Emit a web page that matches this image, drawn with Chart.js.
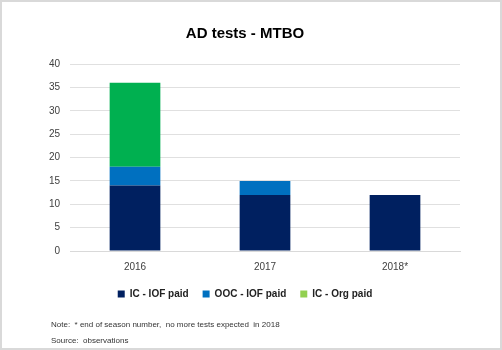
<!DOCTYPE html>
<html>
<head>
<meta charset="utf-8">
<script src="https://cdn.jsdelivr.net/npm/chart.js@4.4.0/dist/chart.umd.min.js"></script>
<style>
  html, body { margin: 0; padding: 0; background: #fff; }
  #wrap {
    position: relative;
    width: 502px;
    height: 350px;
    box-sizing: border-box;
    border: 2px solid #d9d9d9;
    font-family: "Liberation Sans", "DejaVu Sans", sans-serif;
  }
  #chart { position: absolute; left: 0; top: 0; }
  .note {
    position: absolute;
    left: 49px;
    font-size: 8px;
    color: #333;
  }
</style>
</head>
<body>
<div id="wrap">
  <canvas id="chart" width="498" height="346"></canvas>
  <div class="note" style="top: 318px;">Note:&nbsp; * end of season number,&nbsp; no more tests expected&nbsp; in 2018</div>
  <div class="note" style="top: 334px;">Source:&nbsp; observations</div>
</div>
<script>
const years = ["2016", "2017", "2018*"];
const icIofPaid = [14, 12, 12];
const oocIofPaid = [4, 3, 0];
const icOrgPaid = [18, 0, 0];
const seriesNames = ["IC - IOF paid", "OOC - IOF paid", "IC - Org paid"];
const barColors = ["#002060", "#0070C0", "#00B050"];
const legendColors = ["#002060", "#0070C0", "#92D050"];

const ctx = document.getElementById("chart").getContext("2d");

new Chart(ctx, {
  type: "bar",
  data: {
    labels: years,
    datasets: [icIofPaid, oocIofPaid, icOrgPaid].map((vals, i) => ({
      label: seriesNames[i],
      data: vals,
      backgroundColor: barColors[i],
      borderWidth: 0,
      categoryPercentage: 1,
      barPercentage: 0.39,
    })),
  },
  options: {
    responsive: false,
    animation: false,
    layout: {
      padding: { left: 28, right: 40, top: 0, bottom: 39 },
    },
    plugins: {
      title: {
        display: true,
        text: "AD tests - MTBO",
        color: "#000",
        font: { family: "Liberation Sans", size: 15, weight: "bold" },
        padding: { top: 23, bottom: 21 },
      },
      legend: {
        position: "bottom",
        labels: {
          boxWidth: 7,
          boxHeight: 7,
          padding: 14,
          color: "#222",
          font: { family: "Liberation Sans", size: 10, weight: "bold" },
          generateLabels: (chart) =>
            chart.data.datasets.map((ds, i) => ({
              text: ds.label,
              fillStyle: legendColors[i],
              strokeStyle: legendColors[i],
              lineWidth: 0,
              fontColor: "#222",
              datasetIndex: i,
            })),
        },
      },
      tooltip: { enabled: false },
    },
    scales: {
      x: {
        stacked: true,
        grid: { display: false },
        border: { color: "#d9d9d9" },
        ticks: {
          color: "#404040",
          font: { family: "Liberation Sans", size: 10 },
          padding: 2,
        },
      },
      y: {
        stacked: true,
        min: 0,
        max: 40,
        afterFit: (scale) => { scale.width = 40; },
        grid: { color: "#e0e0e0", drawTicks: false },
        border: { display: false },
        ticks: {
          stepSize: 5,
          color: "#404040",
          font: { family: "Liberation Sans", size: 10 },
          padding: 10,
        },
      },
    },
  },
});
</script>
</body>
</html>
